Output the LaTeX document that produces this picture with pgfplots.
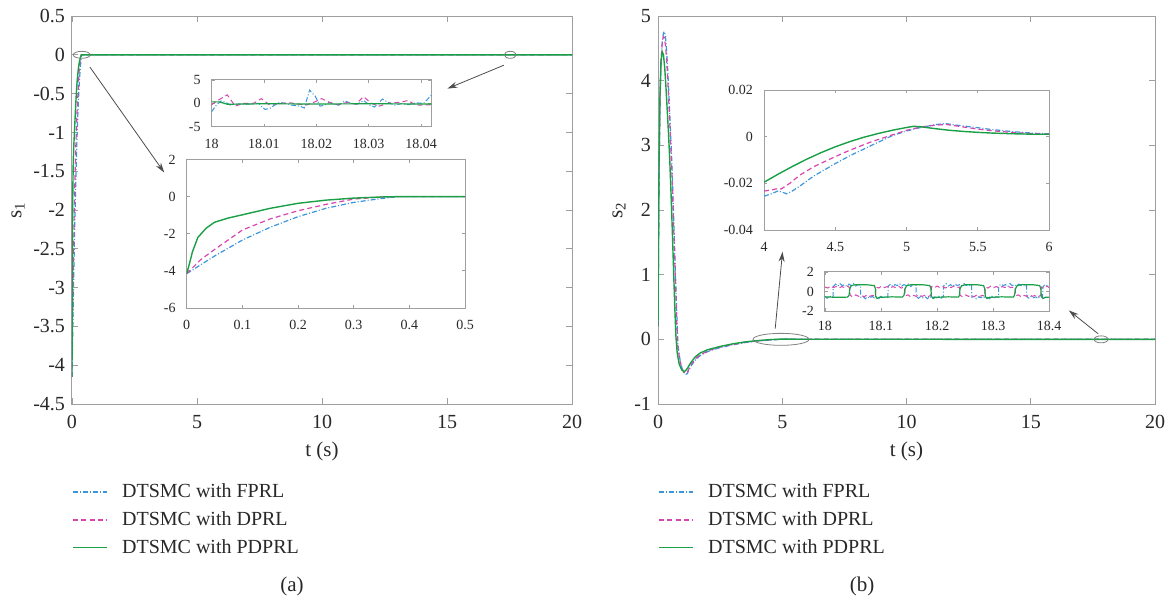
\documentclass[border=0pt]{standalone}
\usepackage{fontspec}
\setmainfont{Liberation Serif}
\usepackage{pgfplots}
\pgfplotsset{compat=1.18}
\usetikzlibrary{arrows.meta}
\definecolor{cB}{RGB}{60,150,220}
\definecolor{cM}{RGB}{215,70,175}
\definecolor{pdgreen}{RGB}{25,160,70}
\definecolor{txt}{RGB}{40,40,40}
\tikzset{
  sB/.style={draw=cB, line width=0.6pt, dash pattern=on 2.5pt off 1pt on 0.5pt off 1pt},
  sM/.style={draw=cM, line width=0.6pt, dash pattern=on 2.5pt off 1.6pt},
  sG/.style={draw=pdgreen, line width=0.7pt},
}
\pgfplotsset{
  base/.style={scale only axis, anchor=south west,
    axis line style={gray!75, line width=0.5pt},
    tick style={gray!75, line width=0.4pt},
    tick align=inside, tick pos=both, scaled ticks=false,
    /pgf/number format/assume math mode=true,
    /pgf/number format/fixed, /pgf/number format/precision=3},
  mainax/.style={base, major tick length=2.8pt,
    ticklabel style={font=\fontsize{10}{12}\selectfont, text=txt},
    xticklabel style={yshift=-2pt},
    xlabel style={font=\fontsize{10.5}{12}\selectfont, text=txt},
    ylabel style={font=\fontsize{10.5}{12}\selectfont, text=txt},
    ylabel shift=-2.5pt,
    legend cell align=left,
    every legend image post/.style={line width=0.8pt},
    legend style={draw=none, fill=none, at={(axis description cs:0,0)}, anchor=north west,
      yshift=-39.5pt, inner sep=0pt, row sep=5.5pt,
      font=\fontsize{10}{12}\selectfont,
      nodes={inner sep=0pt},
      /tikz/every odd column/.append style={column sep=7pt}}},
  insetax/.style={base, major tick length=1.6pt,
    ticklabel style={font=\fontsize{7}{8}\selectfont, text=txt},
    xticklabel style={yshift=-2.5pt}, yticklabel style={xshift=-2pt},
    axis background/.style={fill=white}},
  greenleg/.style={legend image code/.code={\draw[color={rgb,255:red,25;green,160;blue,70}, line width=0.8pt, solid] (0pt,0pt) -- (17.07pt,0pt);}},
}
\begin{document}
\begin{tikzpicture}
\useasboundingbox (0,0) rectangle (585pt,-299.5pt);
% ---------------- left main ----------------
\begin{axis}[mainax, at={(36pt,-202pt)}, width=250pt, height=194pt,
  xmin=0, xmax=20, ymin=-4.5, ymax=0.5,
  xtick={0,5,10,15,20},
  ytick={-4.5,-4,-3.5,-3,-2.5,-2,-1.5,-1,-0.5,0,0.5},
  xlabel={t (s)}, ylabel={s\textsubscript{1}}]
\addlegendimage{sB}
\addlegendentry{\textcolor{txt}{DTSMC with FPRL}}
\addlegendimage{sM}
\addlegendentry{\textcolor{txt}{DTSMC with DPRL}}
\addlegendimage{greenleg}
\addlegendentry{\textcolor{txt}{DTSMC with PDPRL}}
\addplot[sB, forget plot] coordinates {(0,-4.15) (0.05,-3.2) (0.1,-2.34) (0.15,-1.65) (0.2,-1.08) (0.25,-0.63) (0.3,-0.31) (0.35,-0.1) (0.38,0) (20,0)};
\addplot[sM, forget plot] coordinates {(0,-4.15) (0.025,-3.4) (0.05,-2.85) (0.1,-1.8) (0.15,-1.2) (0.2,-0.76) (0.25,-0.42) (0.3,-0.13) (0.35,-0.02) (0.37,0) (20,0)};
\addplot[sG, forget plot] coordinates {(0,-4.15) (0.005,-3.6) (0.01,-3.0) (0.02,-2.2) (0.035,-1.7) (0.05,-1.38) (0.075,-1.15) (0.1,-0.98) (0.15,-0.63) (0.2,-0.36) (0.25,-0.19) (0.3,-0.08) (0.35,-0.02) (0.38,0) (20,0)};
\draw[gray, line width=0.4pt] (axis cs:0.39,0) ellipse [x radius=4.25pt, y radius=1.75pt];
\draw[gray, line width=0.4pt] (axis cs:17.53,0) ellipse [x radius=3pt, y radius=1.75pt];
\end{axis}
% inset 1
\begin{axis}[insetax, at={(105.8pt,-63.35pt)}, width=110pt, height=23.4pt,
  xmin=18, xmax=18.042, ymin=-5, ymax=5,
  xtick={18,18.01,18.02,18.03,18.04}, ytick={-5,0,5},
  xticklabel style={/pgf/number format/precision=2}]
\addplot[sB, line width=0.5pt] coordinates {(18.0000,-1.8) (18.0009,-0.4) (18.0018,0.5) (18.0027,0.2) (18.0036,-0.4) (18.0045,-0.15) (18.0063,-0.2) (18.0081,-0.1) (18.0090,0) (18.0096,-0.8) (18.0102,-1.3) (18.0111,-1.1) (18.0120,-0.4) (18.0129,0.15) (18.0141,0) (18.0153,-0.4) (18.0168,-0.6) (18.0177,-1.0) (18.0187,2.8) (18.0198,1.5) (18.0207,-0.6) (18.0216,-0.4) (18.0225,0.2) (18.0234,-0.2) (18.0243,-0.4) (18.0254,0.5) (18.0266,0) (18.0278,-0.2) (18.0290,0.6) (18.0302,-0.4) (18.0311,-0.8) (18.0326,0.9) (18.0340,0) (18.0350,-0.4) (18.0365,0) (18.0375,-0.3) (18.0390,0.1) (18.0405,0) (18.042,1.8)};
\addplot[sM, line width=0.5pt] coordinates {(18.000,-0.3) (18.001,0.5) (18.003,1.8) (18.0045,-0.6) (18.006,0) (18.008,0) (18.0095,1.0) (18.011,-0.3) (18.013,0) (18.015,0.1) (18.018,-0.4) (18.0195,0.2) (18.021,1.0) (18.0225,0.2) (18.024,-0.3) (18.026,0.2) (18.0275,-0.2) (18.029,1.4) (18.0305,0) (18.032,-0.6) (18.034,0.1) (18.036,0.2) (18.0375,0.6) (18.039,-0.4) (18.042,-0.3)};
\addplot[sG, line width=0.6pt] coordinates {(18,0.3) (18.0015,0.3) (18.003,-0.2) (18.01,-0.1) (18.02,-0.15) (18.03,-0.1) (18.042,-0.15)};
\node[anchor=south west, inner sep=0pt, font=\fontsize{7}{8}\selectfont, text=txt, yshift=1pt] at (rel axis cs:0,1) {×10\textsuperscript{-5}};
\end{axis}
% inset 2
\begin{axis}[insetax, at={(93.35pt,-154pt)}, width=139.2pt, height=74.25pt,
  xmin=0, xmax=0.5, ymin=-6, ymax=2,
  xtick={0,0.1,0.2,0.3,0.4,0.5}, ytick={-6,-4,-2,0,2}]
\addplot[sB] coordinates {(0,-4.15) (0.05,-3.2) (0.1,-2.34) (0.15,-1.65) (0.2,-1.08) (0.25,-0.63) (0.3,-0.31) (0.35,-0.1) (0.38,0) (0.5,0)};
\addplot[sM] coordinates {(0,-4.15) (0.025,-3.4) (0.05,-2.85) (0.1,-1.8) (0.15,-1.2) (0.2,-0.76) (0.25,-0.42) (0.3,-0.13) (0.35,-0.02) (0.37,0) (0.5,0)};
\addplot[sG] coordinates {(0,-4.15) (0.005,-3.6) (0.01,-3.0) (0.02,-2.2) (0.035,-1.7) (0.05,-1.38) (0.075,-1.15) (0.1,-0.98) (0.15,-0.63) (0.2,-0.36) (0.25,-0.19) (0.3,-0.08) (0.35,-0.02) (0.38,0) (0.5,0)};
\end{axis}
% ---------------- right main ----------------
\begin{axis}[mainax, at={(329pt,-202pt)}, width=248.5pt, height=194pt,
  xmin=0, xmax=20, ymin=-1, ymax=5,
  xtick={0,5,10,15,20}, ytick={-1,0,1,2,3,4,5},
  xlabel={t (s)}, ylabel={s\textsubscript{2}}]
\addlegendimage{sB}
\addlegendentry{\textcolor{txt}{DTSMC with FPRL}}
\addlegendimage{sM}
\addlegendentry{\textcolor{txt}{DTSMC with DPRL}}
\addlegendimage{greenleg}
\addlegendentry{\textcolor{txt}{DTSMC with PDPRL}}
\addplot[sB, forget plot] coordinates {(0,0.2) (0.04,2.4) (0.08,3.6) (0.12,4.25) (0.17,4.6) (0.22,4.74) (0.26,4.76) (0.3,4.68) (0.35,4.45) (0.4,4.1) (0.45,3.7) (0.5,3.25) (0.55,2.8) (0.6,2.25) (0.65,1.65) (0.7,1.05) (0.75,0.45) (0.8,-0.08) (0.88,-0.3) (0.96,-0.44) (1.04,-0.51) (1.12,-0.54) (1.18,-0.53) (1.25,-0.47) (1.35,-0.4) (1.5,-0.32) (1.7,-0.25) (2.0,-0.19) (2.3,-0.15) (2.6,-0.12) (3.0,-0.085) (3.5,-0.05) (4,-0.0255) (4.5,-0.0115) (5,0.0025) (5.5,0.0039) (6,0.0013) (20,0)};
\addplot[sM, forget plot] coordinates {(0,0.2) (0.04,2.5) (0.08,3.7) (0.12,4.3) (0.17,4.58) (0.21,4.68) (0.25,4.67) (0.3,4.55) (0.35,4.3) (0.4,3.95) (0.45,3.55) (0.5,3.1) (0.55,2.65) (0.6,2.1) (0.65,1.5) (0.7,0.9) (0.75,0.3) (0.8,-0.12) (0.88,-0.33) (0.96,-0.45) (1.04,-0.51) (1.12,-0.53) (1.18,-0.51) (1.25,-0.45) (1.35,-0.38) (1.5,-0.3) (1.7,-0.24) (2.0,-0.18) (2.3,-0.14) (2.6,-0.11) (3.0,-0.08) (3.5,-0.045) (4,-0.0233) (4.5,-0.0085) (5,0.0028) (5.5,0.0033) (6,0.0011) (20,0)};
\addplot[sG, forget plot] coordinates {(0,0.2) (0.04,2.7) (0.08,3.8) (0.12,4.3) (0.17,4.45) (0.22,4.4) (0.27,4.2) (0.32,3.9) (0.37,3.55) (0.42,3.2) (0.47,2.8) (0.52,2.3) (0.57,1.75) (0.62,1.15) (0.67,0.55) (0.72,0.05) (0.77,-0.2) (0.85,-0.38) (0.95,-0.47) (1.05,-0.5) (1.12,-0.48) (1.2,-0.44) (1.3,-0.37) (1.5,-0.27) (1.7,-0.21) (2,-0.16) (2.5,-0.11) (3,-0.07) (3.5,-0.04) (4,-0.0195) (4.5,-0.0042) (5,0.0043) (5.5,0.0019) (6,0.0011) (20,0)};
\draw[gray, line width=0.4pt] (axis cs:4.95,0) ellipse [x radius=14pt, y radius=3pt];
\draw[gray, line width=0.4pt] (axis cs:17.83,0) ellipse [x radius=3.5pt, y radius=1.75pt];
\end{axis}
% inset 3
\begin{axis}[insetax, at={(382pt,-115pt)}, width=142.55pt, height=69.9pt,
  xmin=4, xmax=6, ymin=-0.04, ymax=0.02,
  xtick={4,4.5,5,5.5,6}, ytick={-0.04,-0.02,0,0.02},
  yticklabel style={/pgf/number format/precision=2}]
\addplot[sB] coordinates {(4,-0.0255) (4.05,-0.0245) (4.1,-0.0232) (4.13,-0.0238) (4.16,-0.0245) (4.2,-0.0232) (4.25,-0.0212) (4.35,-0.0168) (4.5,-0.0115) (4.6,-0.0082) (4.75,-0.0038) (4.9,0.0005) (5,0.0025) (5.1,0.0040) (5.2,0.0052) (5.27,0.0057) (5.35,0.0050) (5.5,0.0039) (5.6,0.0031) (5.75,0.0022) (5.9,0.0015) (6,0.0013)};
\addplot[sM] coordinates {(4,-0.0233) (4.05,-0.0228) (4.1,-0.0222) (4.12,-0.0224) (4.18,-0.0200) (4.25,-0.0165) (4.35,-0.0128) (4.5,-0.0085) (4.6,-0.0058) (4.75,-0.0022) (4.9,0.0008) (5,0.0028) (5.1,0.0042) (5.2,0.0050) (5.28,0.0053) (5.4,0.0042) (5.5,0.0033) (5.6,0.0026) (5.75,0.0018) (5.9,0.0013) (6,0.0011)};
\addplot[sG] coordinates {(4,-0.0195) (4.1,-0.0160) (4.2,-0.0127) (4.3,-0.0096) (4.4,-0.0068) (4.5,-0.0043) (4.6,-0.0021) (4.7,-0.0002) (4.8,0.0014) (4.9,0.0028) (5.0,0.0040) (5.05,0.0045) (5.1,0.0043) (5.2,0.0035) (5.3,0.0028) (5.4,0.0023) (5.5,0.0019) (5.6,0.0016) (5.75,0.0013) (5.9,0.0011) (6,0.0011)};
\end{axis}
% inset 4
\begin{axis}[insetax, at={(412.45pt,-155.5pt)}, width=112.15pt, height=19.55pt,
  xmin=18, xmax=18.4, ymin=-2, ymax=2,
  xtick={18,18.1,18.2,18.3,18.4}, ytick={-2,0,2},
  xticklabel style={yshift=1pt}]
\addplot[sB, line width=0.5pt] coordinates {(18.000,-0.5) (18.004,-0.7) (18.008,-0.45) (18.012,-0.6) (18.0145,-0.5) (18.015,0.5) (18.019,0.75) (18.023,0.55) (18.027,0.8) (18.031,0.6) (18.035,0.7) (18.039,0.5) (18.043,0.75) (18.047,0.6) (18.051,0.8) (18.055,0.55) (18.059,0.7) (18.063,0.6) (18.064,-0.6) (18.068,-0.5) (18.072,-0.75) (18.076,-0.55) (18.080,-0.7) (18.084,-0.5) (18.088,-0.65) (18.092,-0.55) (18.096,-0.75) (18.100,-0.5) (18.104,-0.65) (18.108,-0.55) (18.112,-0.6) (18.113,0.55) (18.117,0.75) (18.121,0.5) (18.125,0.7) (18.129,0.6) (18.133,0.8) (18.137,0.55) (18.141,0.7) (18.145,0.6) (18.149,0.75) (18.153,0.5) (18.157,0.7) (18.161,0.6) (18.1625,0.65) (18.163,-0.55) (18.167,-0.7) (18.171,-0.5) (18.175,-0.65) (18.179,-0.55) (18.183,-0.75) (18.187,-0.5) (18.191,-0.7) (18.195,-0.55) (18.199,-0.65) (18.203,-0.5) (18.207,-0.7) (18.211,-0.55) (18.212,0.6) (18.216,0.8) (18.220,0.55) (18.224,0.7) (18.228,0.5) (18.232,0.75) (18.236,0.6) (18.240,0.7) (18.244,0.55) (18.248,0.8) (18.252,0.6) (18.256,0.7) (18.260,0.55) (18.2615,0.65) (18.262,-0.6) (18.266,-0.5) (18.270,-0.75) (18.274,-0.55) (18.278,-0.65) (18.282,-0.5) (18.286,-0.7) (18.290,-0.6) (18.294,-0.75) (18.298,-0.5) (18.302,-0.65) (18.306,-0.55) (18.3095,-0.6) (18.310,0.55) (18.314,0.75) (18.318,0.6) (18.322,0.7) (18.326,0.5) (18.330,0.8) (18.334,0.6) (18.338,0.7) (18.342,0.55) (18.346,0.75) (18.350,0.6) (18.354,0.7) (18.358,0.5) (18.3595,0.6) (18.360,-0.55) (18.364,-0.7) (18.368,-0.5) (18.372,-0.65) (18.376,-0.55) (18.380,-0.75) (18.384,-0.5) (18.388,-0.6) (18.389,0.5) (18.393,0.7) (18.397,0.55) (18.4,0.65)};
\addplot[sM, line width=0.5pt] coordinates {(18.000,0.45) (18.005,0.35) (18.010,0.55) (18.015,0.4) (18.020,0.5) (18.025,0.35) (18.030,0.5) (18.035,0.4) (18.040,0.55) (18.044,0.4) (18.045,-0.4) (18.050,-0.55) (18.055,-0.35) (18.060,-0.5) (18.065,-0.4) (18.070,-0.55) (18.075,-0.35) (18.080,-0.5) (18.085,-0.4) (18.090,-0.5) (18.091,0.45) (18.096,0.35) (18.101,0.55) (18.106,0.4) (18.111,0.5) (18.116,0.35) (18.121,0.5) (18.126,0.4) (18.131,0.55) (18.136,0.35) (18.142,0.45) (18.143,-0.45) (18.148,-0.35) (18.153,-0.55) (18.158,-0.4) (18.163,-0.5) (18.168,-0.35) (18.173,-0.5) (18.178,-0.4) (18.183,-0.55) (18.189,-0.4) (18.190,0.5) (18.195,0.35) (18.200,0.55) (18.205,0.4) (18.210,0.5) (18.215,0.35) (18.220,0.5) (18.225,0.4) (18.230,0.55) (18.235,0.4) (18.240,0.45) (18.241,-0.4) (18.246,-0.55) (18.251,-0.35) (18.256,-0.5) (18.261,-0.4) (18.266,-0.55) (18.271,-0.35) (18.276,-0.5) (18.281,-0.4) (18.2855,-0.5) (18.286,0.45) (18.291,0.35) (18.296,0.55) (18.301,0.4) (18.306,0.5) (18.311,0.35) (18.316,0.5) (18.321,0.4) (18.326,0.55) (18.331,0.4) (18.339,0.45) (18.340,-0.45) (18.345,-0.35) (18.350,-0.55) (18.355,-0.4) (18.360,-0.5) (18.365,-0.35) (18.370,-0.5) (18.375,-0.4) (18.380,-0.55) (18.385,-0.4) (18.386,0.45) (18.391,0.35) (18.396,0.55) (18.4,0.4)};
\addplot[sG, line width=0.6pt] coordinates {(18.000,-0.55) (18.020,-0.6) (18.040,-0.58) (18.043,-0.4) (18.0446,0.3) (18.047,0.6) (18.055,0.7) (18.075,0.68) (18.088,0.6) (18.090,0.3) (18.0905,-0.5) (18.093,-0.72) (18.097,-0.6) (18.12,-0.55) (18.138,-0.58) (18.141,-0.4) (18.143,0.3) (18.146,0.6) (18.155,0.7) (18.175,0.68) (18.187,0.6) (18.189,0.3) (18.190,-0.5) (18.193,-0.72) (18.197,-0.6) (18.22,-0.55) (18.238,-0.58) (18.240,-0.4) (18.241,0.3) (18.244,0.6) (18.252,0.7) (18.272,0.68) (18.283,0.6) (18.285,0.3) (18.286,-0.5) (18.289,-0.72) (18.293,-0.6) (18.315,-0.55) (18.336,-0.58) (18.338,-0.4) (18.340,0.3) (18.343,0.6) (18.351,0.7) (18.372,0.68) (18.383,0.6) (18.385,0.3) (18.386,-0.5) (18.389,-0.72) (18.393,-0.6) (18.4,-0.58)};
\node[anchor=south west, inner sep=0pt, font=\fontsize{7}{8}\selectfont, text=txt, yshift=1pt] at (rel axis cs:0,1) {×10\textsuperscript{-4}};
\end{axis}
% arrows
\draw[gray!60!black, line width=0.4pt, -{Stealth[length=5pt,width=3pt]}] (45pt,-33.6pt) -- (82.1pt,-86.25pt);
\draw[gray!60!black, line width=0.4pt, -{Stealth[length=5pt,width=3pt]}] (251.95pt,-32.6pt) -- (223.7pt,-44.3pt);
\draw[gray!60!black, line width=0.4pt, -{Stealth[length=5pt,width=3pt]}] (387.6pt,-164.3pt) -- (391.25pt,-125.9pt);
\draw[gray!60!black, line width=0.4pt, -{Stealth[length=5pt,width=3pt]}] (549.1pt,-166.9pt) -- (534.4pt,-155.2pt);
% captions
\node[font=\fontsize{10.5}{12}\selectfont, text=txt] at (146pt,-293pt) {(a)};
\node[font=\fontsize{10.5}{12}\selectfont, text=txt] at (431pt,-293pt) {(b)};
\end{tikzpicture}
\end{document}
